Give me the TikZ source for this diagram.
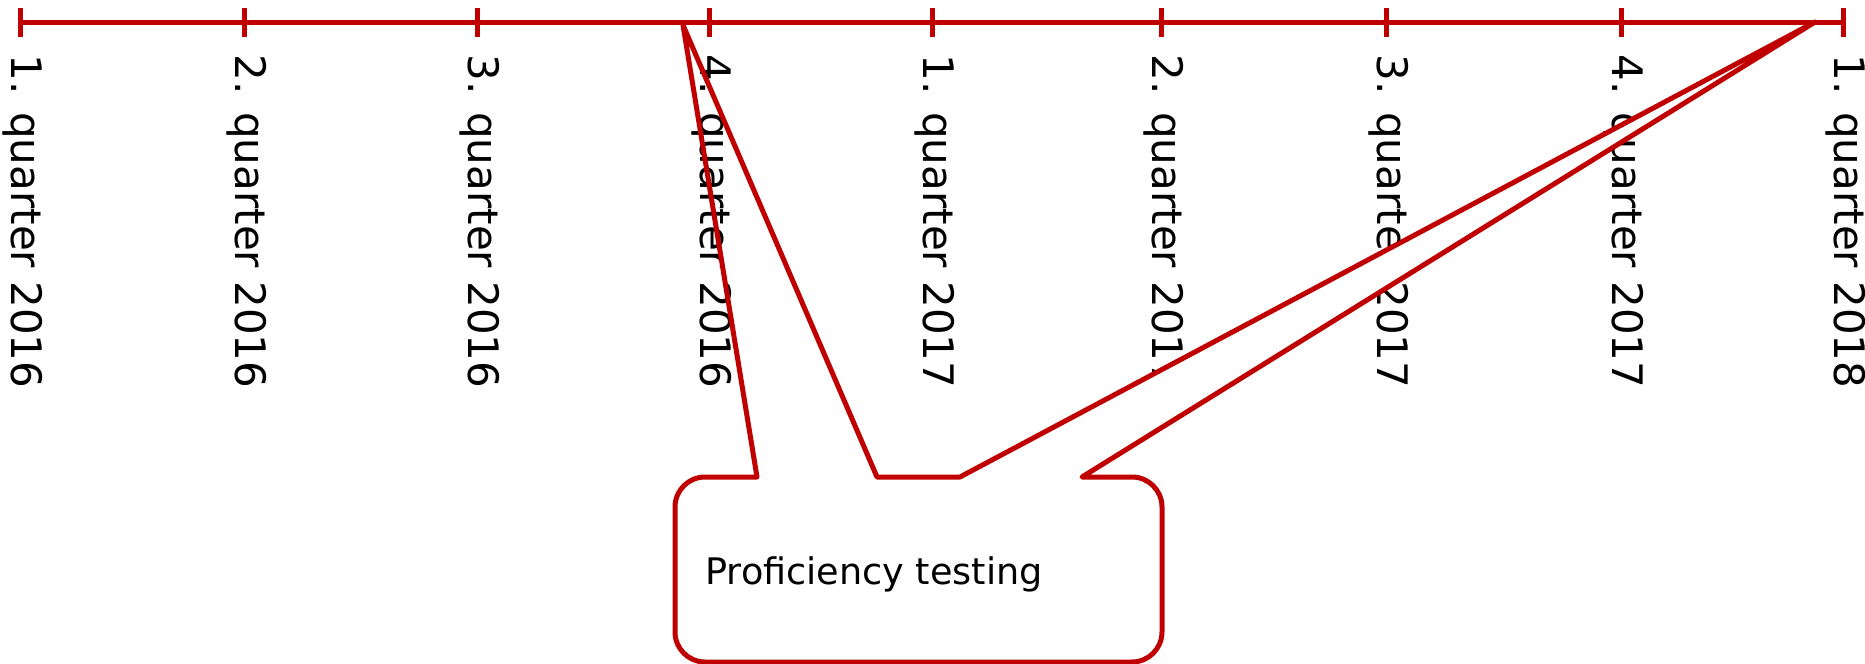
\documentclass[tikz,border=0pt]{standalone}
\usepackage{fontspec}
\setmainfont{DejaVu Sans}
\definecolor{tlred}{RGB}{192,0,0}
\tikzset{
  tlline/.style={draw=tlred, line width=2.5pt},
  qlabel/.style={rotate=-90, anchor=west, inner sep=0pt, font=\fontsize{21}{25}\selectfont},
  ptext/.style={anchor=west, inner sep=0pt, font=\fontsize{18.3}{22}\selectfont}
}
\newcommand{\calloutpath}{(757,477) -- (tipA) -- (877,477) -- (960,477) -- (tipB) -- (1082,477)
    [rounded corners=15pt] -- (1162,477) -- (1162,662) -- (675,662) -- (675,477)
    [sharp corners] -- cycle}
\begin{document}
\begin{tikzpicture}[x=0.5pt, y=-0.5pt]
  \useasboundingbox (0,0) rectangle (1865,664);

  % time axis
  \coordinate (start) at (20,22);
  \coordinate (stop) at (1843,22);
  \draw[tlline] (start) -- (stop);

  \foreach \x/\lbl [count=\i] in {20/1. quarter 2016, 244/2. quarter 2016, 477/3. quarter 2016,
      709/4. quarter 2016, 932/1. quarter 2017, 1161/2. quarter 2017, 1386/3. quarter 2017,
      1621/4. quarter 2017, 1843/1. quarter 2018}{
    \coordinate (q\i) at (\x,22);
    \draw[tlline] (\x,8) -- (\x,37);
  }
  \foreach \x/\lbl [count=\i from 5] in {932/1. quarter 2017, 1161/2. quarter 2017,
      1386/3. quarter 2017, 1621/4. quarter 2017, 1843/1. quarter 2018}
    \node[qlabel] (l\i) at (\x+3,54) {\lbl};

  % callout
  \coordinate (tipA) at (683,25);
  \coordinate (tipB) at (1815,22);
  \fill[white] \calloutpath;
  \foreach \x/\lbl [count=\i] in {20/1. quarter 2016, 244/2. quarter 2016,
      477/3. quarter 2016, 709/4. quarter 2016}
    \node[qlabel] (l\i) at (\x+3,54) {\lbl};
  \draw[tlline, line join=round] \calloutpath;
  \node[ptext] (pt) at (705,574) {Proficiency testing};
\end{tikzpicture}
\end{document}
